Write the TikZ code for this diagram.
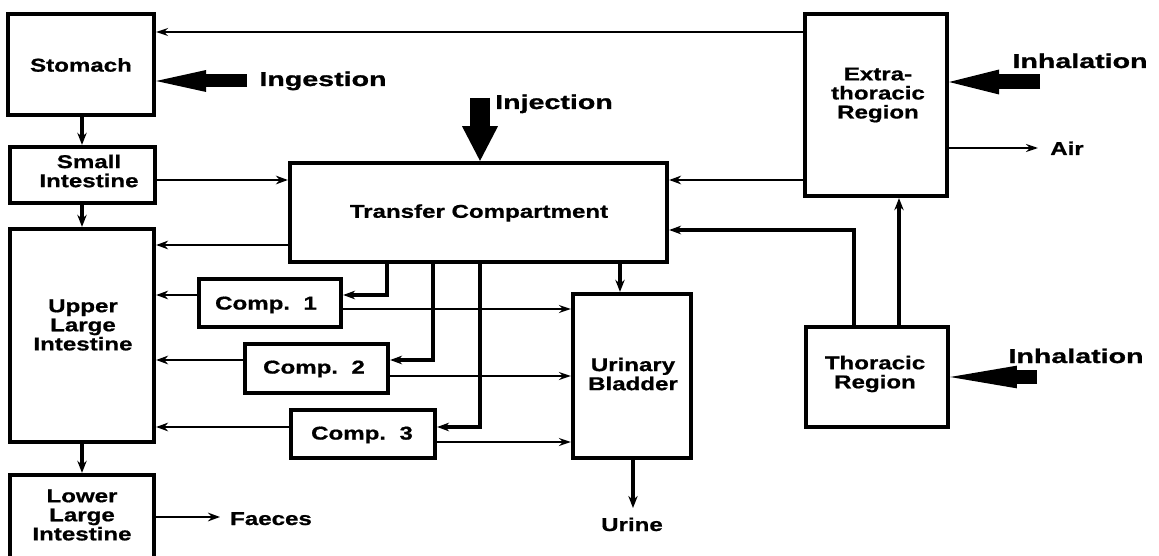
\documentclass[tikz,border=0pt]{standalone}
\usepackage{fontspec}
\setmainfont{Liberation Sans}[FakeStretch=1.3, BoldFeatures={FakeBold=0.8}]
\newfontfamily\lblfont{Liberation Sans}[FakeStretch=1.43, BoldFeatures={FakeBold=1.2}]
\usetikzlibrary{arrows.meta}
\begin{document}
\begin{tikzpicture}[x=0.75pt,y=-0.75pt,
  bx/.style 2 args={draw, line width=3.2pt, inner sep=0pt, minimum width=#1*0.75pt, minimum height=#2*0.75pt},
  txt/.style={inner sep=0pt, align=center, font=\fontsize{13.9}{14.3}\selectfont\bfseries},
  big/.style={inner sep=0pt, anchor=base, font=\lblfont\fontsize{15}{18}\selectfont\bfseries},
  arr/.style={line width=2.2pt, -{Stealth[length=9pt,width=6.5pt]}},
  tarr/.style={line width=3pt, -{Stealth[length=9pt,width=7pt]}},
  thinarr/.style={line width=1.6pt, -{Stealth[length=9pt,width=6pt]}},
  bigarr/.style n args={3}{line width=#1, -{Triangle[width=#2,length=#3,line width=0pt]}}]
\clip (0,0) rectangle (1159,556);
\fill[white] (0,0) rectangle (1159,556);
% boxes
\node[bx={146}{101}] (st) at (81,64.5) {};
\node[bx={145}{56}] (si) at (82.5,175) {};
\node[bx={144}{213}] (uli) at (82,335.5) {};
\node[bx={144}{125}] (lli) at (82,537.5) {};
\node[bx={377}{99}] (tc) at (478.5,212.5) {};
\node[bx={142}{48}] (c1) at (270,303) {};
\node[bx={143}{49}] (c2) at (316.5,368.5) {};
\node[bx={144}{48}] (c3) at (363,434) {};
\node[bx={118}{164}] (ub) at (632,376) {};
\node[bx={142}{182}] (et) at (876,105) {};
\node[bx={142}{100}] (tr) at (877,377) {};
% box texts
\node[txt] (stt) at (81,65) {Stomach};
\node[txt] (sit) at (89,171) {Small\\Intestine};
\node[txt] (ulit) at (83,325) {Upper\\Large\\Intestine};
\node[txt] (llit) at (82,515) {Lower\\Large\\Intestine};
\node[txt] (tct) at (479,213) {Transfer Compartment};
\node[txt] (c1t) at (266,305) {Comp.\ \ 1};
\node[txt] (c2t) at (314,369) {Comp.\ \ 2};
\node[txt] (c3t) at (362,435) {Comp.\ \ 3};
\node[txt] (ubt) at (633,374) {Urinary\\Bladder};
\node[txt] (ett) at (878,95) {Extra-\\thoracic\\Region};
\node[txt] (trt) at (875,374) {Thoracic\\Region};
% free ends
\coordinate (ing) at (247,81);
\coordinate (inj) at (480,98);
\coordinate (inh1) at (1040,82);
\coordinate (inh2) at (1037,377);
\coordinate (airc) at (1038,148);
\coordinate (urc) at (633,508);
\coordinate (fac) at (220,517);
% big input arrows
\draw[bigarr={9.75pt}{16.5pt}{37.5pt}] (ing) -- (st.east |- ing);
\draw[bigarr={15pt}{27pt}{26pt}] (inj) -- (tc.north -| inj);
\draw[bigarr={11.25pt}{18.75pt}{37.5pt}] (inh1) -- (et.east |- inh1);
\draw[bigarr={10.5pt}{17pt}{50pt}] (inh2) -- (tr.east |- inh2);
% labels
\node[big] (ingt) at (323,86) {Ingestion};
\node[big] (injt) at (554,109) {Injection};
\node[big] (inh1t) at (1080,68) {Inhalation};
\node[big] (inh2t) at (1076,363) {Inhalation};
\node[txt, anchor=base west] (airt) at (1050,155) {Air};
\node[txt, anchor=base] (urt) at (632,531) {Urine};
\node[txt, anchor=base] (fat) at (271,525) {Faeces};
% connectors
\draw[thinarr] (et.west |- 0,32) -- (st.east |- 0,32);
\draw[tarr] (st.south -| 82,0) -- (si.north -| 82,0);
\draw[arr] (si.east |- 0,180) -- (tc.west |- 0,180);
\draw[tarr] (si.south -| 82,0) -- (uli.north -| 82,0);
\draw[arr] (et.west |- 0,180) -- (tc.east |- 0,180);
\draw[arr, line width=2.6pt] (tr.north -| 854,0) |- (tc.east |- 0,230);
\draw[tarr] (tr.north -| 899,0) -- (et.south -| 899,0);
\draw[thinarr] (et.east |- airc) -- (airc);
\draw[arr] (tc.west |- 0,245) -- (uli.east |- 0,245);
\draw[arr, line width=2.6pt] (tc.south -| 387,0) |- (c1.east |- 0,295);
\draw[arr] (c1.west |- 0,295) -- (uli.east |- 0,295);
\draw[thinarr] (c1.east |- 0,309) -- (ub.west |- 0,309);
\draw[arr, line width=2.6pt] (tc.south -| 433,0) |- (c2.east |- 0,360);
\draw[arr] (c2.west |- 0,360) -- (uli.east |- 0,360);
\draw[thinarr] (c2.east |- 0,376) -- (ub.west |- 0,376);
\draw[arr, line width=2.6pt] (tc.south -| 480,0) |- (c3.east |- 0,427);
\draw[arr] (c3.west |- 0,427) -- (uli.east |- 0,427);
\draw[thinarr] (c3.east |- 0,442) -- (ub.west |- 0,442);
\draw[tarr] (tc.south -| 620,0) -- (ub.north -| 620,0);
\draw[tarr] (ub.south -| urc) -- (urc);
\draw[tarr] (uli.south -| 82,0) -- (lli.north -| 82,0);
\draw[arr] (lli.east |- fac) -- (fac);
\end{tikzpicture}
\end{document}
